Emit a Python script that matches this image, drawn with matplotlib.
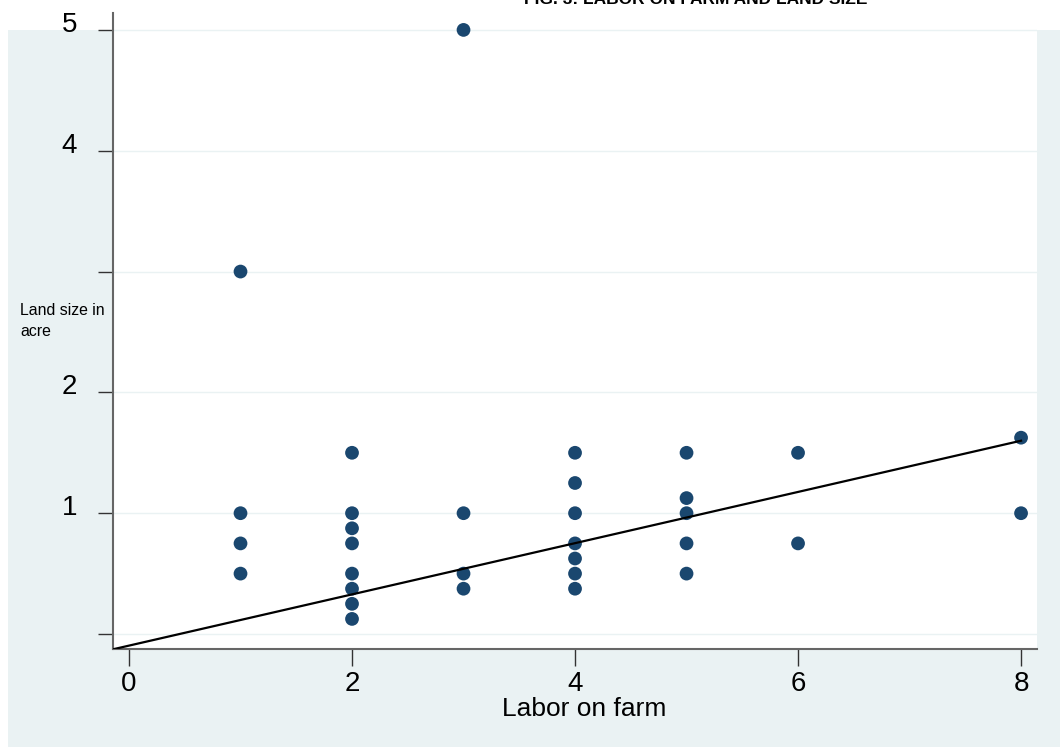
import matplotlib
matplotlib.use("Agg")
import matplotlib.pyplot as plt
import matplotlib.transforms as mtransforms
from matplotlib.patches import Rectangle
import numpy as np

# data
labor = [1, 1, 1, 1,
         2, 2, 2, 2, 2, 2, 2, 2,
         3, 3, 3, 3,
         4, 4, 4, 4, 4, 4, 4,
         5, 5, 5, 5, 5,
         6, 6,
         8, 8]
land = [3.0, 1.0, 0.75, 0.5,
        1.5, 1.0, 0.875, 0.75, 0.5, 0.375, 0.25, 0.125,
        5.0, 1.0, 0.5, 0.375,
        1.5, 1.25, 1.0, 0.75, 0.625, 0.5, 0.375,
        1.5, 1.125, 1.0, 0.75, 0.5,
        1.5, 0.75,
        1.625, 1.0]

# fitted line as drawn in the reference
fit_intercept = -0.096
fit_slope = 0.212

y_ticks = [0, 1, 2, 3, 4, 5]
y_ticklabels = ["", "1", "2", "", "4", "5"]
x_ticks = [0, 2, 4, 6, 8]

bg = "#eaf2f3"
navy = "#1a476f"

plt.rcParams["font.family"] = ["Liberation Sans", "DejaVu Sans"]

fig = plt.figure(figsize=(10.6, 7.47), dpi=100)
fig.patch.set_facecolor("white")
fig.patches.append(Rectangle((8 / 1060, 0), 1 - 8 / 1060, (747 - 30) / 747,
                             transform=fig.transFigure, facecolor=bg,
                             edgecolor="none", zorder=0))

ax = fig.add_axes([113 / 1060, (747 - 649) / 747, (1037 - 113) / 1060, (649 - 13) / 747])
ax.set_facecolor("white")
ax.set_zorder(1)

ax.scatter(labor, land, s=98, color=navy, edgecolors="none", zorder=3)

xl = (-0.1435, 8.143)
xs = np.array([xl[0], max(labor)])
ax.plot(xs, fit_intercept + fit_slope * xs, color="black", lw=1.6, zorder=4)

ax.set_xlim(*xl)
ax.set_ylim(-0.124, 5.14)

ax.set_yticks(y_ticks)
ax.set_yticklabels(y_ticklabels)
ax.set_xticks(x_ticks)
ax.tick_params(axis="y", direction="out", length=11, width=1, color="#333333",
               labelsize=20, pad=15)
ax.tick_params(axis="x", direction="out", length=12, width=1, color="#333333",
               labelsize=20, pad=4)
offset = mtransforms.ScaledTranslation(0, 0.08, fig.dpi_scale_trans)
for lab in ax.get_yticklabels():
    lab.set_transform(lab.get_transform() + offset)

ax.grid(axis="y", color=bg, lw=1)
ax.set_axisbelow(True)
for side in ["top", "right"]:
    ax.spines[side].set_visible(False)
for side in ["left", "bottom"]:
    ax.spines[side].set_color("#666666")
    ax.spines[side].set_linewidth(1.5)

fig.text(584 / 1060, (747 - 716) / 747, "Labor on farm", ha="center",
         va="baseline", fontsize=19)
ax.set_ylabel("Land size in\nacre", fontsize=11.4, rotation=0, ha="left",
              va="center", multialignment="left", linespacing=1.55)
ax.yaxis.set_label_coords(-0.1006, 0.516)

fig.text(696 / 1060, 1 - 4 / 747, "FIG. 3: LABOR ON FARM AND LAND SIZE",
         ha="center", va="baseline", fontsize=12.5, fontweight="bold")

fig.savefig("out.png", dpi=100, facecolor=fig.get_facecolor())
